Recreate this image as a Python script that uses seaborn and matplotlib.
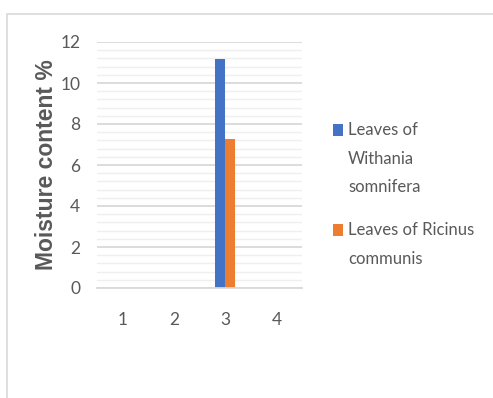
import matplotlib
matplotlib.use("Agg")
import matplotlib.pyplot as plt
import seaborn as sns
import pandas as pd
from matplotlib.patches import Rectangle
from matplotlib.ticker import MultipleLocator

# Moisture content (%) per sample, for each leaf type
samples = ["1", "2", "3", "4"]
withania = [0, 0, 11.15, 0]
ricinus = [0, 0, 7.25, 0]
series_names = ["Leaves of Withania somnifera", "Leaves of Ricinus communis"]
legend_lines = [["Leaves of", "Withania", "somnifera"], ["Leaves of Ricinus", "communis"]]
colors = ["#4472C4", "#ED7D31"]

df = pd.DataFrame({
    "sample": samples * 2,
    "value": withania + ricinus,
    "series": [series_names[0]] * len(samples) + [series_names[1]] * len(samples),
})

sns.set_theme(style="white")
plt.rcParams["font.family"] = ["Lato", "DejaVu Sans"]
text_gray = "#595959"

fig = plt.figure(figsize=(4.93, 3.98), dpi=100)
fig.patch.set_facecolor("white")

W, H = 493, 398

# light chart-area frame
fig.add_artist(Rectangle((7 / W, -0.05), 1.0, 1 - 14 / H + 0.05,
                         transform=fig.transFigure, fill=False,
                         edgecolor="#d9d9d9", linewidth=1.2))

ax = fig.add_axes([97 / W, 1 - 288 / H, 205 / W, 246 / H])
sns.barplot(data=df, x="sample", y="value", hue="series", order=samples,
            hue_order=series_names, palette=colors, width=0.39,
            saturation=1, ax=ax, edgecolor="none", linewidth=0, legend=False)

ax.set_ylim(0, 12)
ax.set_xlim(-0.5, 3.5)
ax.yaxis.set_major_locator(MultipleLocator(2))
ax.yaxis.set_minor_locator(MultipleLocator(0.4))
ax.grid(which="major", axis="y", color="#d9d9d9", linewidth=1.3)
ax.grid(which="minor", axis="y", color="#efefef", linewidth=1.0)
ax.set_axisbelow(True)
for side in ["top", "right", "left"]:
    ax.spines[side].set_visible(False)
ax.spines["bottom"].set_color("#d9d9d9")
ax.spines["bottom"].set_linewidth(1.3)

ax.tick_params(axis="both", which="both", length=0, colors=text_gray, labelsize=12.5)
ax.tick_params(axis="x", pad=17)
ax.tick_params(axis="y", pad=12)
ax.set_xlabel("")
ax.set_ylabel("Moisture content %", fontsize=16.5, fontweight="bold",
              color=text_gray, family=["Liberation Sans", "DejaVu Sans"])
ax.yaxis.set_label_coords(-0.19, 0.5)

# legend: colour key beside the first line of each wrapped label
line_step = 28.5
entry_tops = [130, 230]
for color, lines, y0 in zip(colors, legend_lines, entry_tops):
    fig.add_artist(Rectangle((333 / W, 1 - (y0 + 6) / H), 10 / W, 12 / H,
                             transform=fig.transFigure, facecolor=color,
                             edgecolor="none"))
    for i, line in enumerate(lines):
        fig.text(348 / W, 1 - (y0 + i * line_step) / H, line, fontsize=12,
                 color=text_gray, va="center", ha="left")

fig.savefig("out.png", dpi=100, facecolor="white")
